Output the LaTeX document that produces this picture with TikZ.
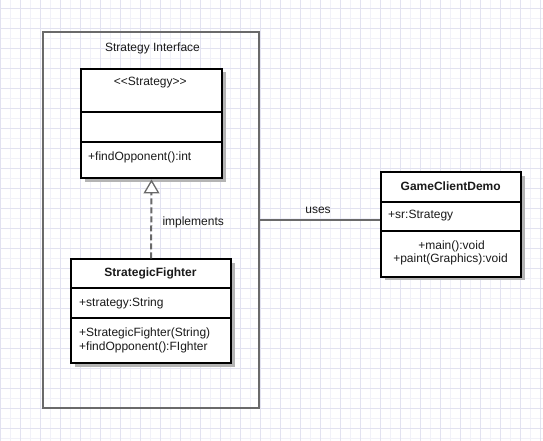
\documentclass[tikz,border=0pt]{standalone}
\usepackage{fontspec}
\setmainfont{Liberation Sans}
\usetikzlibrary{shadows,calc}
\definecolor{gridmajor}{HTML}{E2E2F0}
\definecolor{gridminor}{HTML}{F1F1F8}
\definecolor{framegray}{HTML}{6A6A6A}
\definecolor{shadowgray}{HTML}{B4B4B4}
\definecolor{txt}{HTML}{1A1A1A}
\begin{document}
\begin{tikzpicture}[x=1pt,y=-1pt,
  umlbox/.style={draw=black,line width=2pt,fill=white,rectangle,inner sep=0pt,anchor=north west,
    drop shadow={shadow xshift=3.5pt,shadow yshift=-3.5pt,fill=shadowgray,opacity=1}},
  divider/.style={draw=black,line width=2pt},
  lbl/.style={inner sep=0pt,text=txt,font=\fontsize{12pt}{14pt}\selectfont},
  lblb/.style={lbl,font=\fontsize{12pt}{14pt}\selectfont\bfseries},
  connector/.style={draw=framegray,line width=2pt},
  realize/.style={draw=framegray,line width=2pt,dash pattern=on 6pt off 3pt},
]
\useasboundingbox (0,0) rectangle (543,441);
\fill[white] (0,0) rectangle (543,441);
% grid
\foreach \x in {10.7,30.7,...,543} \draw[gridminor,line width=0.8pt] (\x,0) -- (\x,441);
\foreach \y in {18.3,38.3,...,441} \draw[gridminor,line width=0.8pt] (0,\y) -- (543,\y);
\foreach \x in {0.7,20.7,...,543} \draw[gridmajor,line width=0.8pt] (\x,0) -- (\x,441);
\foreach \y in {8.3,28.3,...,441} \draw[gridmajor,line width=0.8pt] (0,\y) -- (543,\y);

% frame
\node[draw=framegray,line width=2pt,rectangle,inner sep=0pt,anchor=north west,
  minimum width=216pt,minimum height=376pt] (frame) at (41.5,31) {};
\node[lbl] (frametitle) at (152.5,48) {Strategy Interface};

% Strategy interface box
\node[umlbox,minimum width=141pt,minimum height=109.6pt] (strat) at (80,67.7) {};
\draw[divider] ($(strat.north west)+(0,44)$) -- ($(strat.north east)+(0,44)$);
\draw[divider] ($(strat.north west)+(0,74)$) -- ($(strat.north east)+(0,74)$);
\node[lbl] (stratname) at (150.3,83) {<\kern0pt<Strategy>\kern0pt>};
\node[lbl,anchor=west] (stratop) at (88,157) {+findOpponent():int};

% StrategicFighter box
\node[umlbox,minimum width=160pt,minimum height=104pt] (fighter) at (70,258.3) {};
\draw[divider] ($(fighter.north west)+(0,29.4)$) -- ($(fighter.north east)+(0,29.4)$);
\draw[divider] ($(fighter.north west)+(0,59.4)$) -- ($(fighter.north east)+(0,59.4)$);
\node[lblb] (fightername) at (150.5,273) {StrategicFighter};
\node[lbl,anchor=west] (fighterattr) at (79,303) {+strategy:String};
\node[lbl,anchor=west] (fighterop1) at (79,333) {+StrategicFighter(String)};
\node[lbl,anchor=west] (fighterop2) at (79,347) {+findOpponent():FIghter};

% GameClientDemo box
\node[umlbox,minimum width=140pt,minimum height=104.7pt] (game) at (380,171) {};
\draw[divider] ($(game.north west)+(0,30.7)$) -- ($(game.north east)+(0,30.7)$);
\draw[divider] ($(game.north west)+(0,60)$) -- ($(game.north east)+(0,60)$);
\node[lblb] (gamename) at (450.7,186) {GameClientDemo};
\node[lbl,anchor=west] (gameattr) at (388,216) {+sr:Strategy};
\node[lbl] (gameop1) at (451.5,246) {+main():void};
\node[lbl] (gameop2) at (450.5,259.5) {+paint(Graphics):void};

% realization
\coordinate (tribase) at ($(strat.south)+(0,13.5)$);
\draw[realize] (fighter.north) -- (tribase);
\draw[draw=framegray,fill=white,line width=1.3pt,line join=miter]
  ($(strat.south)+(0,1.5)$) -- ($(tribase)+(-7,0)$) -- ($(tribase)+(7,0)$) -- cycle;
\node[lbl,anchor=west] (impl) at (162.3,222.7) {implements};

% uses association
\coordinate (usesend) at ($(game.north west)+(0,49)$);
\draw[connector] (frame.east |- usesend) -- (usesend);
\node[lbl] (uses) at (318,210) {uses};
\end{tikzpicture}
\end{document}
